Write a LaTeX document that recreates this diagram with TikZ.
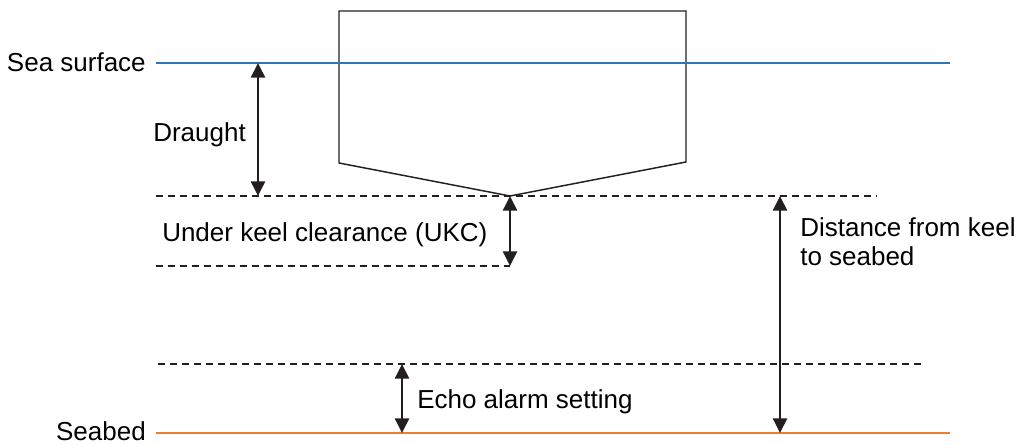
\documentclass[tikz,border=0pt]{standalone}
\usepackage{fontspec}
\setmainfont{Liberation Sans}
\usetikzlibrary{arrows.meta}
\definecolor{seablue}{RGB}{46,117,182}
\definecolor{bedorange}{RGB}{237,125,49}
\definecolor{ink}{RGB}{35,31,32}

\begin{document}
\begin{tikzpicture}[x=0.75pt,y=-0.75pt,
	lbl/.style={inner sep=0pt,font=\fontsize{19.5}{21.75}\selectfont},
	hull/.style={ink,line width=1.1pt,line join=miter},
	level/.style={ink,line width=0.8pt,dash pattern=on 5.5pt off 3.5pt},
	dim/.style={ink,line width=1.9pt,{Triangle[length=11pt,width=10.5pt]}-{Triangle[length=11pt,width=10.5pt]}}]
	\useasboundingbox (0,0) rectangle (1019,445);
	\coordinate (sl) at (156,63);
	\coordinate (sr) at (950,63);
	\coordinate (kl) at (156,196);
	\coordinate (kr) at (877,196);
	\coordinate (ul) at (156,266);
	\coordinate (ur) at (510,266);
	\coordinate (el) at (158,364);
	\coordinate (er) at (922,364);
	\coordinate (bl) at (156,433);
	\coordinate (br) at (950,433);
	\coordinate (keel) at (510,196);
	\coordinate (dt) at (258,63);
	\coordinate (db) at (258,196);
	\coordinate (ht) at (780,196);
	\coordinate (hb) at (780,433);
	\coordinate (at) at (402,364);
	\coordinate (ab) at (402,433);
	\draw[hull] (339,11) -- (686,11) -- (686,162) -- (keel) -- (339,163) -- cycle;
	\draw[seablue,line width=1.1pt] (sl) -- (sr);
	\draw[bedorange,line width=1.1pt] (bl) -- (br);
	\draw[level] (kl) -- (kr);
	\draw[level] (ul) -- (ur);
	\draw[level] (el) -- (er);
	\draw[dim] (dt) -- (db);
	\draw[dim] (keel) -- (ur);
	\draw[dim] (ht) -- (hb);
	\draw[dim] (at) -- (ab);
	\node[lbl,anchor=base east] (sea) at (146,72) {Sea surface};
	\node[lbl,anchor=base east] (bed) at (146,440) {Seabed};
	\node[lbl,anchor=base west] (draught) at (153,142) {Draught};
	\node[lbl,anchor=base west] (ukc) at (162,241) {Under keel clearance (UKC)};
	\node[lbl,anchor=north west,align=left] (dist) at (800,217) {Distance from keel\\to seabed};
	\node[lbl,anchor=base west] (echo) at (417,408) {Echo alarm setting};
\end{tikzpicture}
\end{document}
